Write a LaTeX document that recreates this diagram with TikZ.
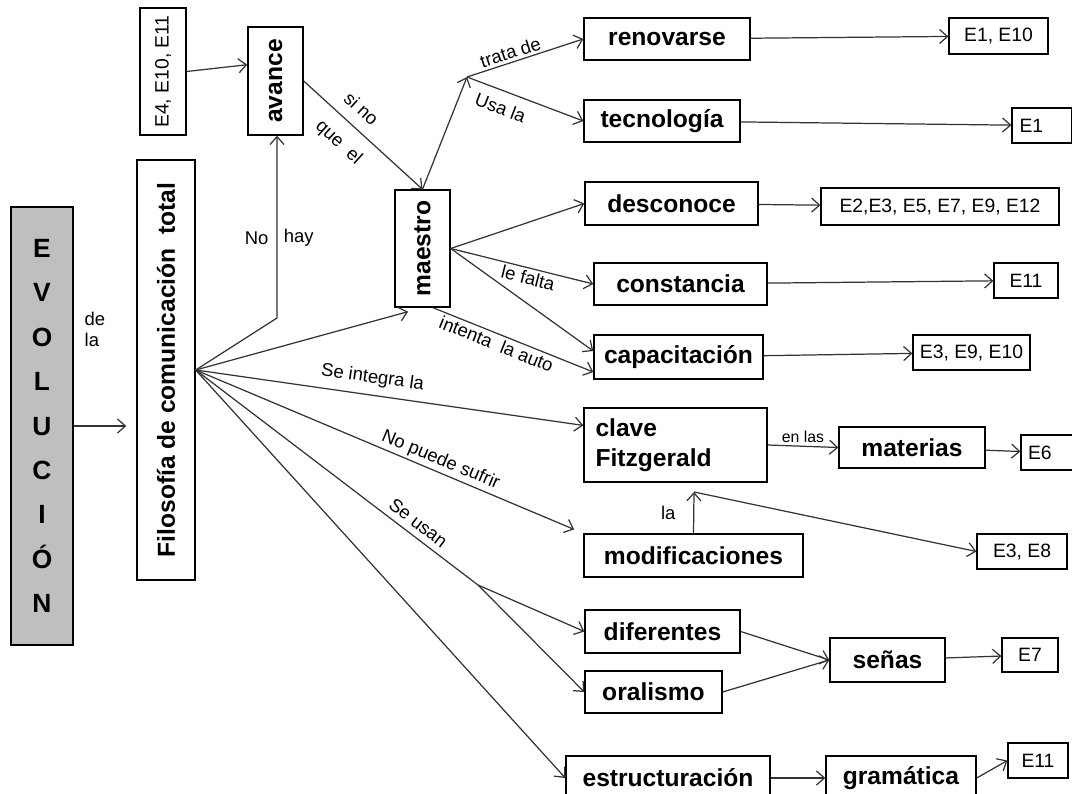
\documentclass[tikz,border=0pt]{standalone}
\usepackage{fontspec}
\setmainfont{Liberation Sans}
\usepackage{graphicx}
\usetikzlibrary{arrows.meta}

\begin{document}
\begin{tikzpicture}[x=0.02cm, y=-0.02cm,
    caja/.style={draw=black, line width=0.8pt, inner sep=0pt,
      font=\fontsize{14}{17}\selectfont\bfseries},
    refe/.style={draw=black, line width=0.7pt, inner sep=0pt,
      font=\fontsize{11}{13}\selectfont},
    etiq/.style={font=\fontsize{10.5}{12}\selectfont, inner sep=1.5pt},
    flecha/.style={draw=black!80, line width=0.7pt,
      -{Straight Barb[length=4.5pt,width=8pt]}},
    linea/.style={draw=black!80, line width=0.7pt}]
  \useasboundingbox (0,0) rectangle (1072,794);

  % columna izquierda
  \node[caja, fill=gray!50, line width=1.5pt, minimum width=1.24cm,
    minimum height=8.76cm, align=center,
    font=\fontsize{15}{25.3}\selectfont\bfseries] (evol) at (42,426)
    {E\\V\\O\\L\\U\\C\\I\\Ó\\N};
  \node[etiq, align=left] (dela) at (95,329) {de\\la};
  \node[caja, minimum width=1.16cm, minimum height=8.4cm] (filo) at (166,370)
    {\rotatebox{90}{Filosofía de comunicación\ \ total}};
  \node[refe, minimum width=0.92cm, minimum height=2.54cm] (e4) at (163,71.5)
    {\rotatebox{90}{E4, E10, E11}};
  \node[caja, minimum width=1.1cm, minimum height=2.16cm] (avance) at (275.5,81)
    {\rotatebox{90}{avance}};
  \node[caja, minimum width=1.1cm, minimum height=2.34cm] (maestro) at (422.5,248.5)
    {\rotatebox{90}{maestro}};

  % conceptos
  \node[caja, minimum width=3.32cm, minimum height=0.84cm] (renovarse) at (667,39) {renovarse};
  \node[caja, minimum width=3.12cm, minimum height=0.84cm] (tecnologia) at (662,121) {tecnología};
  \node[caja, minimum width=3.46cm, minimum height=0.86cm] (desconoce) at (671.5,203.5) {desconoce};
  \node[caja, minimum width=3.46cm, minimum height=0.84cm] (constancia) at (680.5,284) {constancia};
  \node[caja, minimum width=3.38cm, minimum height=0.88cm] (capacitacion) at (678.5,357) {capacitación};
  \node[caja, minimum width=3.66cm, minimum height=1.48cm, text width=3.2cm,
    align=left] (clave) at (675.5,445) {clave\\Fitzgerald};
  \node[caja, minimum width=2.92cm, minimum height=0.82cm] (materias) at (912,447.5) {materias};
  \node[caja, minimum width=4.38cm, minimum height=0.86cm] (modif) at (693.5,555.5) {modificaciones};
  \node[caja, minimum width=3.1cm, minimum height=0.86cm] (diferentes) at (662.5,631.5) {diferentes};
  \node[caja, minimum width=2.74cm, minimum height=0.84cm] (oralismo) at (653.5,692) {oralismo};
  \node[caja, minimum width=2.3cm, minimum height=0.88cm] (senas) at (887.5,660) {señas};
  \node[caja, minimum width=4.08cm, minimum height=0.88cm] (estruc) at (668,778) {estructuración};
  \node[caja, minimum width=3.0cm, minimum height=0.88cm] (gramatica) at (901,778) {gramática};

  % entrevistas
  \node[refe, minimum width=1.98cm, minimum height=0.72cm] (eA) at (998.5,36) {E1, E10};
  \node[refe, minimum width=1.2cm, minimum height=0.7cm, text width=0.9cm,
    align=left] (eB) at (1042,125.5) {E1};
  \node[refe, minimum width=4.76cm, minimum height=0.74cm] (eC) at (940,206.5) {E2,E3, E5, E7, E9, E12};
  \node[refe, minimum width=1.28cm, minimum height=0.7cm] (eD) at (1026,280.5) {E11};
  \node[refe, minimum width=2.34cm, minimum height=0.7cm] (eE) at (971.5,352.5) {E3, E9, E10};
  \node[refe, minimum width=1.08cm, minimum height=0.7cm, text width=0.8cm,
    align=left] (eF) at (1048,452.5) {E6};
  \node[refe, minimum width=1.8cm, minimum height=0.7cm] (eG) at (1022,551.5) {E3, E8};
  \node[refe, minimum width=1.12cm, minimum height=0.68cm] (eH) at (1030,655) {E7};
  \node[refe, minimum width=1.2cm, minimum height=0.7cm] (eI) at (1038,760.5) {E11};

  % puntos de quiebre
  \coordinate (codo) at (277,318);
  \coordinate (jmae) at (467,77);
  \coordinate (jmod) at (694,492);
  \coordinate (jusan) at (478,585);

  \draw[flecha, shorten >=0.2cm] (evol.east) -- (evol.east -| filo.west);
  \draw[flecha] (e4.east) -- (avance.150);
  \draw[flecha] (filo.east) -- (codo) -- (codo |- avance.south)
    node[etiq, pos=0.44, left=3pt] {No} node[etiq, pos=0.44, right=2pt] {hay};
  \draw[flecha] (avance.east) -- (maestro.north)
    node[etiq, pos=0.38, above=5pt, sloped] {si no}
    node[etiq, pos=0.42, below=6pt, sloped] {que\ \ el};
  \draw[flecha] (maestro.north) -- (jmae);
  \draw[flecha] (jmae) -- (renovarse.west) node[etiq, pos=0.4, above, sloped] {trata de};
  \draw[flecha] (jmae) -- (tecnologia.west) node[etiq, pos=0.34, below=4pt, sloped] {Usa la};
  \draw[flecha] (renovarse) -- (eA);
  \draw[flecha] (tecnologia) -- (eB);
  \draw[flecha] (maestro.east) -- (desconoce.west);
  \draw[flecha] (desconoce) -- (eC);
  \draw[flecha] (maestro.east) -- (constancia.west)
    node[etiq, pos=0.56, below, sloped] {le falta};
  \draw[flecha] (constancia) -- (eD);
  \draw[flecha] (maestro.east) -- (capacitacion.176);
  \draw[flecha] (maestro.-80) -- (capacitacion.190)
    node[etiq, pos=0.42, below, sloped] {intenta\ \ la auto};
  \draw[flecha] (capacitacion) -- (eE);
  \draw[flecha, shorten >=0.3cm] (filo.east) -- (maestro.south);
  \draw[flecha] (filo.east) -- (clave.168)
    node[etiq, pos=0.45, above=3pt, sloped] {Se integra la};
  \draw[flecha] (clave.east) -- (materias.west)
    node[etiq, midway, above, font=\fontsize{9}{10}\selectfont] {en las};
  \draw[flecha] (materias) -- (eF);
  \draw[flecha, shorten >=0.2cm] (filo.east) -- (modif.north west)
    node[etiq, pos=0.62, above, sloped] {No puede sufrir};
  \draw[flecha] (modif.north) -- (jmod) node[etiq, midway, left=0.3cm] {la};
  \draw[flecha] (jmod) -- (eG.west);
  \draw[linea] (filo.east) -- (jusan) node[etiq, pos=0.76, above=2pt, sloped] {Se usan};
  \draw[flecha] (jusan) -- (diferentes.west);
  \draw[flecha] (jusan) -- (oralismo.west);
  \draw[flecha] (diferentes.east) -- (senas.west);
  \draw[flecha] (oralismo.east) -- (senas.west);
  \draw[flecha] (senas) -- (eH);
  \draw[flecha] (filo.east) -- (estruc.west);
  \draw[flecha] (estruc) -- (gramatica);
  \draw[flecha] (gramatica.east) -- (eI.west);
\end{tikzpicture}
\end{document}
